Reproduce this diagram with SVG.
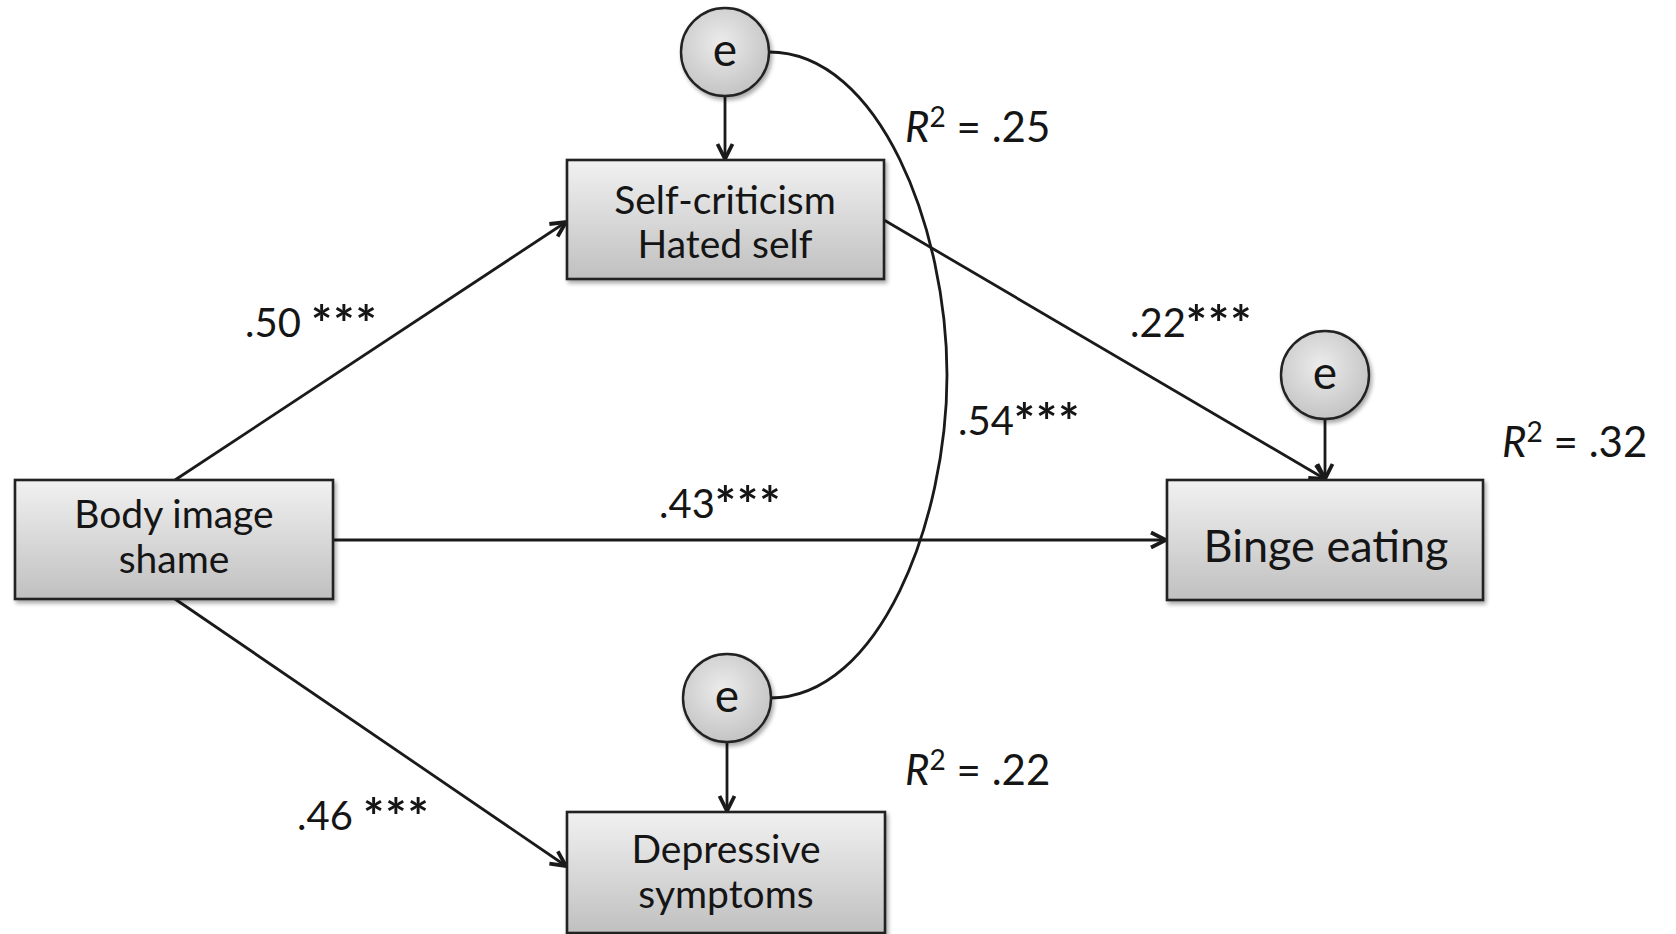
<svg xmlns="http://www.w3.org/2000/svg" width="1676" height="934" viewBox="0 0 1676 934">
<defs>
<linearGradient id="boxg" x1="0" y1="0" x2="0" y2="1">
<stop offset="0" stop-color="#f1f1f1"/>
<stop offset="1" stop-color="#c0c0c0"/>
</linearGradient>
<radialGradient id="circg" cx="0.45" cy="0.4" r="0.6">
<stop offset="0" stop-color="#ececec"/>
<stop offset="1" stop-color="#c4c4c4"/>
</radialGradient>
<filter id="sh" x="-10%" y="-10%" width="125%" height="130%">
<feGaussianBlur in="SourceAlpha" stdDeviation="2"/>
<feOffset dx="2" dy="3" result="b"/>
<feComponentTransfer><feFuncA type="linear" slope="0.35"/></feComponentTransfer>
<feMerge><feMergeNode/><feMergeNode in="SourceGraphic"/></feMerge>
</filter>
<marker id="arr" viewBox="0 0 20 20" refX="18" refY="10" markerWidth="20" markerHeight="20" markerUnits="userSpaceOnUse" orient="auto">
<path d="M3,2.5 L18,10 L3,17.5" fill="none" stroke="#1a1a1a" stroke-width="3.8"/>
</marker>
</defs>
<style>
.box{fill:url(#boxg);stroke:#222;stroke-width:2.6;filter:url(#sh)}
.circ{fill:url(#circg);stroke:#222;stroke-width:2.4;filter:url(#sh)}
.t{font-family:Lato,"Liberation Sans",sans-serif;font-size:39px;fill:#151515;text-anchor:middle}
.big{font-size:45px}
.et{font-size:46px}
.lab{font-family:Lato,"Liberation Sans",sans-serif;font-size:40px;fill:#151515}
.st{font-size:50px;letter-spacing:1px;font-weight:bold}
.r2{font-family:Lato,"Liberation Sans",sans-serif;font-size:42px;fill:#151515}
.sup{font-size:28px}
.it{font-style:italic}
.ln{stroke:#1a1a1a;stroke-width:2.8;fill:none}
.arw{stroke:#1a1a1a;stroke-width:2.8;fill:none;marker-end:url(#arr)}
</style>
<rect width="1676" height="934" fill="#fff"/>
<g id="connectors">
<line class="arw" x1="725" y1="96" x2="725" y2="159"/>
<line class="arw" x1="727" y1="742" x2="727" y2="811"/>
<line class="arw" x1="1325" y1="419" x2="1325" y2="479"/>
<line class="arw" x1="175" y1="480" x2="566" y2="222"/>
<line class="arw" x1="175" y1="599" x2="566" y2="866"/>
<line class="arw" x1="333" y1="540" x2="1166" y2="540"/>
<line class="arw" x1="884" y1="220" x2="1325" y2="479"/>
<path class="ln" d="M769 52 C880 52, 947 230, 947 375 C947 520, 880 698, 770 698"/>
</g>
<g id="self-criticism">
<rect class="box" x="567" y="160" width="317" height="119"/>
<text class="t" x="725" y="214">Self-criticism</text>
<text class="t" x="725" y="258">Hated self</text>
</g>
<g id="body-image-shame">
<rect class="box" x="15" y="480" width="318" height="119"/>
<text class="t" x="174" y="528">Body image</text>
<text class="t" x="174" y="573">shame</text>
</g>
<g id="binge-eating">
<rect class="box" x="1167" y="480" width="316" height="120"/>
<text class="t big" x="1326" y="562">Binge eating</text>
</g>
<g id="depressive-symptoms">
<rect class="box" x="567" y="812" width="318" height="121"/>
<text class="t" x="726" y="863">Depressive</text>
<text class="t" x="726" y="908">symptoms</text>
</g>
<g id="e-self">
<circle class="circ" cx="725" cy="52" r="44"/>
<text class="t et" x="725" y="66">e</text>
</g>
<g id="e-binge">
<circle class="circ" cx="1325" cy="375" r="44"/>
<text class="t et" x="1325" y="389">e</text>
</g>
<g id="e-depressive">
<circle class="circ" cx="727" cy="698" r="44"/>
<text class="t et" x="727" y="712">e</text>
</g>
<g id="labels">
<text class="lab" x="245" y="337">.50 <tspan class="st" dy="5">***</tspan></text>
<text class="lab" x="1130" y="337">.22<tspan class="st" dy="5">***</tspan></text>
<text class="lab" x="958" y="435">.54<tspan class="st" dy="5">***</tspan></text>
<text class="lab" x="659" y="518">.43<tspan class="st" dy="5">***</tspan></text>
<text class="lab" x="297" y="830">.46 <tspan class="st" dy="5">***</tspan></text>
<text class="r2" x="905" y="142"><tspan class="it">R</tspan><tspan class="sup" dy="-15">2</tspan><tspan dy="15"> = .25</tspan></text>
<text class="r2" x="1502" y="457"><tspan class="it">R</tspan><tspan class="sup" dy="-15">2</tspan><tspan dy="15"> = .32</tspan></text>
<text class="r2" x="905" y="785"><tspan class="it">R</tspan><tspan class="sup" dy="-15">2</tspan><tspan dy="15"> = .22</tspan></text>
</g>
</svg>
